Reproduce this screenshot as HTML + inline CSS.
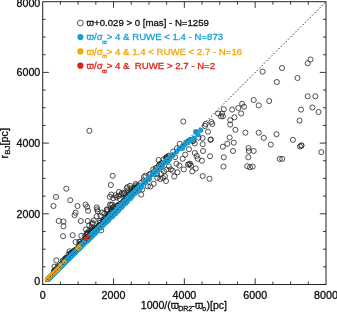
<!DOCTYPE html>
<html><head><meta charset="utf-8"><title>plot</title>
<style>html,body{margin:0;padding:0;background:#fff;}svg{display:block;}</style>
</head><body>
<svg width="337" height="312" viewBox="0 0 337 312">
<rect x="0" y="0" width="337" height="312" fill="#fff"/>
<g fill="none" stroke="#262626" stroke-width="0.8">
<circle cx="63.0" cy="236.2" r="2.55"/>
<circle cx="72.7" cy="235.2" r="2.55"/>
<circle cx="75.6" cy="242.0" r="2.55"/>
<circle cx="56.3" cy="260.4" r="2.55"/>
<circle cx="81.3" cy="235.8" r="2.55"/>
<circle cx="66.3" cy="188.7" r="2.55"/>
<circle cx="56.0" cy="196.9" r="2.55"/>
<circle cx="70.2" cy="200.2" r="2.55"/>
<circle cx="53.5" cy="206.0" r="2.55"/>
<circle cx="77.5" cy="206.0" r="2.55"/>
<circle cx="85.6" cy="204.6" r="2.55"/>
<circle cx="87.1" cy="206.9" r="2.55"/>
<circle cx="88.1" cy="210.8" r="2.55"/>
<circle cx="96.7" cy="207.5" r="2.55"/>
<circle cx="75.6" cy="212.7" r="2.55"/>
<circle cx="74.6" cy="215.2" r="2.55"/>
<circle cx="58.7" cy="221.0" r="2.55"/>
<circle cx="63.5" cy="221.5" r="2.55"/>
<circle cx="63.5" cy="226.3" r="2.55"/>
<circle cx="80.8" cy="221.0" r="2.55"/>
<circle cx="87.7" cy="221.0" r="2.55"/>
<circle cx="97.7" cy="211.3" r="2.55"/>
<circle cx="96.7" cy="216.2" r="2.55"/>
<circle cx="93.8" cy="220.4" r="2.55"/>
<circle cx="92.0" cy="223.8" r="2.55"/>
<circle cx="89.4" cy="130.8" r="2.55"/>
<circle cx="112.7" cy="175.8" r="2.55"/>
<circle cx="110.8" cy="185.0" r="2.55"/>
<circle cx="141.2" cy="194.6" r="2.55"/>
<circle cx="153.7" cy="183.8" r="2.55"/>
<circle cx="145.4" cy="175.8" r="2.55"/>
<circle cx="111.3" cy="194.6" r="2.55"/>
<circle cx="130.0" cy="185.8" r="2.55"/>
<circle cx="126.7" cy="188.3" r="2.55"/>
<circle cx="136.3" cy="185.4" r="2.55"/>
<circle cx="119.0" cy="192.0" r="2.55"/>
<circle cx="122.0" cy="193.0" r="2.55"/>
<circle cx="112.3" cy="204.6" r="2.55"/>
<circle cx="107.5" cy="211.3" r="2.55"/>
<circle cx="179.8" cy="143.8" r="2.55"/>
<circle cx="186.2" cy="142.5" r="2.55"/>
<circle cx="194.8" cy="143.5" r="2.55"/>
<circle cx="189.0" cy="149.2" r="2.55"/>
<circle cx="185.2" cy="154.6" r="2.55"/>
<circle cx="182.7" cy="158.8" r="2.55"/>
<circle cx="194.8" cy="153.0" r="2.55"/>
<circle cx="196.7" cy="156.0" r="2.55"/>
<circle cx="197.7" cy="158.8" r="2.55"/>
<circle cx="190.0" cy="163.7" r="2.55"/>
<circle cx="188.0" cy="164.6" r="2.55"/>
<circle cx="191.0" cy="165.6" r="2.55"/>
<circle cx="176.5" cy="163.7" r="2.55"/>
<circle cx="179.4" cy="165.6" r="2.55"/>
<circle cx="183.8" cy="169.4" r="2.55"/>
<circle cx="192.3" cy="171.3" r="2.55"/>
<circle cx="195.8" cy="168.5" r="2.55"/>
<circle cx="170.8" cy="169.4" r="2.55"/>
<circle cx="172.7" cy="170.8" r="2.55"/>
<circle cx="177.5" cy="172.3" r="2.55"/>
<circle cx="174.2" cy="176.5" r="2.55"/>
<circle cx="164.0" cy="171.3" r="2.55"/>
<circle cx="165.0" cy="176.2" r="2.55"/>
<circle cx="160.2" cy="179.0" r="2.55"/>
<circle cx="163.0" cy="178.0" r="2.55"/>
<circle cx="166.0" cy="181.0" r="2.55"/>
<circle cx="157.3" cy="178.0" r="2.55"/>
<circle cx="150.6" cy="173.8" r="2.55"/>
<circle cx="154.4" cy="171.3" r="2.55"/>
<circle cx="242.1" cy="103.8" r="2.55"/>
<circle cx="244.0" cy="106.7" r="2.55"/>
<circle cx="238.3" cy="108.0" r="2.55"/>
<circle cx="232.1" cy="109.6" r="2.55"/>
<circle cx="223.8" cy="109.2" r="2.55"/>
<circle cx="241.2" cy="113.5" r="2.55"/>
<circle cx="218.0" cy="113.5" r="2.55"/>
<circle cx="222.0" cy="113.5" r="2.55"/>
<circle cx="222.9" cy="116.3" r="2.55"/>
<circle cx="221.0" cy="116.3" r="2.55"/>
<circle cx="234.4" cy="117.3" r="2.55"/>
<circle cx="230.2" cy="120.2" r="2.55"/>
<circle cx="230.2" cy="124.6" r="2.55"/>
<circle cx="211.3" cy="122.0" r="2.55"/>
<circle cx="212.3" cy="124.0" r="2.55"/>
<circle cx="205.6" cy="124.0" r="2.55"/>
<circle cx="205.0" cy="126.0" r="2.55"/>
<circle cx="235.4" cy="129.8" r="2.55"/>
<circle cx="245.4" cy="132.7" r="2.55"/>
<circle cx="208.0" cy="131.7" r="2.55"/>
<circle cx="210.4" cy="139.8" r="2.55"/>
<circle cx="229.6" cy="137.5" r="2.55"/>
<circle cx="233.8" cy="142.7" r="2.55"/>
<circle cx="227.3" cy="143.8" r="2.55"/>
<circle cx="222.9" cy="146.7" r="2.55"/>
<circle cx="202.7" cy="144.2" r="2.55"/>
<circle cx="203.0" cy="151.0" r="2.55"/>
<circle cx="233.0" cy="151.0" r="2.55"/>
<circle cx="248.5" cy="148.0" r="2.55"/>
<circle cx="248.8" cy="151.0" r="2.55"/>
<circle cx="253.7" cy="151.0" r="2.55"/>
<circle cx="210.0" cy="156.3" r="2.55"/>
<circle cx="223.8" cy="157.3" r="2.55"/>
<circle cx="248.3" cy="157.3" r="2.55"/>
<circle cx="253.7" cy="100.0" r="2.55"/>
<circle cx="258.7" cy="105.4" r="2.55"/>
<circle cx="269.2" cy="101.0" r="2.55"/>
<circle cx="301.0" cy="109.6" r="2.55"/>
<circle cx="299.6" cy="120.6" r="2.55"/>
<circle cx="258.7" cy="132.7" r="2.55"/>
<circle cx="263.8" cy="137.9" r="2.55"/>
<circle cx="276.5" cy="134.2" r="2.55"/>
<circle cx="270.8" cy="144.6" r="2.55"/>
<circle cx="292.9" cy="139.8" r="2.55"/>
<circle cx="300.0" cy="146.5" r="2.55"/>
<circle cx="301.5" cy="145.5" r="2.55"/>
<circle cx="310.5" cy="59.5" r="2.55"/>
<circle cx="307.7" cy="63.3" r="2.55"/>
<circle cx="282.0" cy="68.0" r="2.55"/>
<circle cx="262.6" cy="71.6" r="2.55"/>
<circle cx="297.5" cy="78.0" r="2.55"/>
<circle cx="276.8" cy="82.0" r="2.55"/>
<circle cx="307.7" cy="96.3" r="2.55"/>
<circle cx="315.3" cy="96.3" r="2.55"/>
<circle cx="201.9" cy="160.8" r="2.55"/>
<circle cx="223.5" cy="166.6" r="2.55"/>
<circle cx="247.3" cy="166.2" r="2.55"/>
<circle cx="250.0" cy="167.2" r="2.55"/>
<circle cx="252.7" cy="166.6" r="2.55"/>
<circle cx="202.7" cy="176.0" r="2.55"/>
<circle cx="209.5" cy="178.7" r="2.55"/>
<circle cx="279.7" cy="158.9" r="2.55"/>
<circle cx="282.2" cy="158.9" r="2.55"/>
<circle cx="321.3" cy="152.1" r="2.55"/>
<circle cx="312.4" cy="107.5" r="2.55"/>
<circle cx="318.5" cy="112.0" r="2.55"/>
<circle cx="144.0" cy="177.0" r="2.55"/>
<circle cx="168.9" cy="166.4" r="2.55"/>
<circle cx="166.5" cy="169.6" r="2.55"/>
<circle cx="160.9" cy="173.7" r="2.55"/>
<circle cx="150.4" cy="186.5" r="2.55"/>
<circle cx="97.2" cy="209.4" r="2.55"/>
<circle cx="101.2" cy="230.3" r="2.55"/>
<circle cx="100.4" cy="215.8" r="2.55"/>
<circle cx="102.0" cy="212.6" r="2.55"/>
<circle cx="104.5" cy="213.4" r="2.55"/>
<circle cx="110.0" cy="204.6" r="2.55"/>
<circle cx="113.3" cy="198.2" r="2.55"/>
<circle cx="116.5" cy="197.4" r="2.55"/>
<circle cx="89.2" cy="225.4" r="2.55"/>
<circle cx="91.6" cy="227.0" r="2.55"/>
<circle cx="86.0" cy="229.5" r="2.55"/>
<circle cx="87.6" cy="232.7" r="2.55"/>
<circle cx="115.4" cy="195.3" r="2.55"/>
<circle cx="118.6" cy="196.0" r="2.55"/>
<circle cx="121.0" cy="194.5" r="2.55"/>
<circle cx="124.2" cy="192.9" r="2.55"/>
<circle cx="128.2" cy="190.4" r="2.55"/>
<circle cx="109.8" cy="196.9" r="2.55"/>
<circle cx="183.3" cy="121.5" r="2.55"/>
<circle cx="198.5" cy="137.6" r="2.55"/>
<circle cx="202.6" cy="138.1" r="2.55"/>
<circle cx="210.9" cy="139.5" r="2.55"/>
<circle cx="301.3" cy="145.6" r="2.55"/>
<circle cx="189.2" cy="164.3" r="2.55"/>
<circle cx="64.6" cy="262.0" r="2.55"/>
<circle cx="75.4" cy="251.4" r="2.55"/>
<circle cx="71.3" cy="254.9" r="2.55"/>
<circle cx="55.6" cy="270.2" r="2.55"/>
<circle cx="55.0" cy="271.0" r="2.55"/>
<circle cx="56.4" cy="270.3" r="2.55"/>
<circle cx="67.1" cy="258.0" r="2.55"/>
<circle cx="58.0" cy="268.4" r="2.55"/>
<circle cx="73.6" cy="251.2" r="2.55"/>
<circle cx="72.6" cy="253.5" r="2.55"/>
<circle cx="86.0" cy="240.9" r="2.55"/>
<circle cx="81.9" cy="244.4" r="2.55"/>
<circle cx="58.8" cy="267.9" r="2.55"/>
<circle cx="63.4" cy="261.7" r="2.55"/>
<circle cx="59.5" cy="266.2" r="2.55"/>
<circle cx="74.6" cy="251.5" r="2.55"/>
<circle cx="72.0" cy="254.8" r="2.55"/>
<circle cx="56.0" cy="270.5" r="2.55"/>
<circle cx="75.9" cy="250.1" r="2.55"/>
<circle cx="63.8" cy="261.8" r="2.55"/>
<circle cx="68.7" cy="257.6" r="2.55"/>
<circle cx="79.3" cy="246.1" r="2.55"/>
<circle cx="61.5" cy="264.1" r="2.55"/>
<circle cx="70.4" cy="254.6" r="2.55"/>
<circle cx="77.7" cy="248.6" r="2.55"/>
<circle cx="86.0" cy="240.7" r="2.55"/>
<circle cx="67.0" cy="258.2" r="2.55"/>
<circle cx="58.6" cy="267.2" r="2.55"/>
<circle cx="54.8" cy="270.7" r="2.55"/>
<circle cx="78.5" cy="247.2" r="2.55"/>
<circle cx="82.4" cy="243.9" r="2.55"/>
<circle cx="76.2" cy="249.4" r="2.55"/>
<circle cx="72.6" cy="253.3" r="2.55"/>
<circle cx="80.5" cy="244.3" r="2.55"/>
<circle cx="68.9" cy="256.5" r="2.55"/>
<circle cx="55.4" cy="269.9" r="2.55"/>
<circle cx="74.2" cy="250.5" r="2.55"/>
<circle cx="80.7" cy="245.6" r="2.55"/>
<circle cx="66.1" cy="259.4" r="2.55"/>
<circle cx="54.5" cy="271.4" r="2.55"/>
<circle cx="59.6" cy="267.1" r="2.55"/>
<circle cx="55.3" cy="269.9" r="2.55"/>
<circle cx="58.2" cy="268.2" r="2.55"/>
<circle cx="66.0" cy="259.0" r="2.55"/>
<circle cx="56.4" cy="269.6" r="2.55"/>
<circle cx="71.1" cy="253.8" r="2.55"/>
<circle cx="80.0" cy="245.1" r="2.55"/>
<circle cx="62.8" cy="263.2" r="2.55"/>
<circle cx="64.9" cy="260.0" r="2.55"/>
<circle cx="85.3" cy="241.4" r="2.55"/>
<circle cx="59.7" cy="266.7" r="2.55"/>
<circle cx="61.3" cy="264.6" r="2.55"/>
<circle cx="73.1" cy="253.2" r="2.55"/>
<circle cx="53.9" cy="272.1" r="2.55"/>
<circle cx="65.6" cy="260.0" r="2.55"/>
<circle cx="84.5" cy="240.9" r="2.55"/>
<circle cx="70.3" cy="255.2" r="2.55"/>
<circle cx="76.2" cy="250.6" r="2.55"/>
<circle cx="82.7" cy="242.6" r="2.55"/>
<circle cx="81.8" cy="243.3" r="2.55"/>
<circle cx="66.6" cy="259.5" r="2.55"/>
<circle cx="56.9" cy="268.6" r="2.55"/>
<circle cx="56.2" cy="270.6" r="2.55"/>
<circle cx="60.9" cy="265.7" r="2.55"/>
<circle cx="65.3" cy="261.6" r="2.55"/>
<circle cx="54.1" cy="272.5" r="2.55"/>
<circle cx="57.1" cy="269.0" r="2.55"/>
<circle cx="54.1" cy="270.9" r="2.55"/>
<circle cx="74.1" cy="252.6" r="2.55"/>
<circle cx="62.1" cy="264.1" r="2.55"/>
<circle cx="66.2" cy="257.8" r="2.55"/>
<circle cx="79.2" cy="241.7" r="2.55"/>
<circle cx="68.6" cy="254.1" r="2.55"/>
<circle cx="57.9" cy="266.2" r="2.55"/>
<circle cx="65.3" cy="258.2" r="2.55"/>
<circle cx="80.1" cy="243.8" r="2.55"/>
<circle cx="54.5" cy="266.6" r="2.55"/>
<circle cx="71.1" cy="252.8" r="2.55"/>
<circle cx="71.8" cy="252.6" r="2.55"/>
<circle cx="69.6" cy="251.3" r="2.55"/>
<circle cx="80.2" cy="241.8" r="2.55"/>
<circle cx="62.7" cy="260.5" r="2.55"/>
<circle cx="94.3" cy="229.9" r="2.55"/>
<circle cx="113.7" cy="210.5" r="2.55"/>
<circle cx="103.7" cy="222.1" r="2.55"/>
<circle cx="128.3" cy="195.5" r="2.55"/>
<circle cx="130.7" cy="193.5" r="2.55"/>
<circle cx="129.0" cy="195.4" r="2.55"/>
<circle cx="97.9" cy="227.1" r="2.55"/>
<circle cx="105.4" cy="221.0" r="2.55"/>
<circle cx="87.6" cy="238.0" r="2.55"/>
<circle cx="99.3" cy="225.2" r="2.55"/>
<circle cx="136.7" cy="188.5" r="2.55"/>
<circle cx="134.9" cy="188.8" r="2.55"/>
<circle cx="136.8" cy="188.7" r="2.55"/>
<circle cx="97.9" cy="227.9" r="2.55"/>
<circle cx="96.7" cy="229.2" r="2.55"/>
<circle cx="118.4" cy="205.5" r="2.55"/>
<circle cx="130.5" cy="194.6" r="2.55"/>
<circle cx="120.1" cy="204.1" r="2.55"/>
<circle cx="90.1" cy="234.5" r="2.55"/>
<circle cx="133.8" cy="190.5" r="2.55"/>
<circle cx="125.7" cy="199.4" r="2.55"/>
<circle cx="94.9" cy="229.3" r="2.55"/>
<circle cx="103.1" cy="221.1" r="2.55"/>
<circle cx="137.6" cy="187.8" r="2.55"/>
<circle cx="106.5" cy="217.3" r="2.55"/>
<circle cx="124.8" cy="201.2" r="2.55"/>
<circle cx="93.1" cy="232.9" r="2.55"/>
<circle cx="133.5" cy="190.8" r="2.55"/>
<circle cx="93.1" cy="231.0" r="2.55"/>
<circle cx="137.7" cy="187.0" r="2.55"/>
<circle cx="104.4" cy="220.5" r="2.55"/>
<circle cx="93.5" cy="232.9" r="2.55"/>
<circle cx="137.2" cy="187.5" r="2.55"/>
<circle cx="113.2" cy="210.6" r="2.55"/>
<circle cx="108.4" cy="215.7" r="2.55"/>
<circle cx="130.1" cy="195.8" r="2.55"/>
<circle cx="99.5" cy="226.1" r="2.55"/>
<circle cx="98.5" cy="226.3" r="2.55"/>
<circle cx="99.7" cy="225.5" r="2.55"/>
<circle cx="92.2" cy="231.7" r="2.55"/>
<circle cx="104.7" cy="220.5" r="2.55"/>
<circle cx="116.2" cy="207.7" r="2.55"/>
<circle cx="107.6" cy="216.3" r="2.55"/>
<circle cx="112.4" cy="212.5" r="2.55"/>
<circle cx="114.3" cy="212.1" r="2.55"/>
<circle cx="109.7" cy="216.3" r="2.55"/>
<circle cx="85.6" cy="238.5" r="2.55"/>
<circle cx="95.0" cy="230.1" r="2.55"/>
<circle cx="124.3" cy="200.6" r="2.55"/>
<circle cx="103.1" cy="221.9" r="2.55"/>
<circle cx="113.0" cy="207.4" r="2.55"/>
<circle cx="90.3" cy="232.3" r="2.55"/>
<circle cx="98.6" cy="225.6" r="2.55"/>
<circle cx="125.8" cy="197.2" r="2.55"/>
<circle cx="113.5" cy="207.2" r="2.55"/>
<circle cx="133.5" cy="190.0" r="2.55"/>
<circle cx="117.3" cy="205.7" r="2.55"/>
<circle cx="111.3" cy="210.3" r="2.55"/>
<circle cx="108.7" cy="214.1" r="2.55"/>
<circle cx="106.9" cy="209.5" r="2.55"/>
<circle cx="119.8" cy="198.9" r="2.55"/>
<circle cx="135.5" cy="188.8" r="2.55"/>
<circle cx="111.2" cy="205.1" r="2.55"/>
<circle cx="130.3" cy="194.5" r="2.55"/>
<circle cx="91.5" cy="231.9" r="2.55"/>
<circle cx="89.3" cy="235.0" r="2.55"/>
<circle cx="88.1" cy="233.7" r="2.55"/>
<circle cx="124.0" cy="194.1" r="2.55"/>
<circle cx="92.2" cy="229.1" r="2.55"/>
<circle cx="120.7" cy="204.0" r="2.55"/>
<circle cx="127.5" cy="187.1" r="2.55"/>
<circle cx="92.8" cy="222.9" r="2.55"/>
<circle cx="106.0" cy="217.1" r="2.55"/>
<circle cx="135.7" cy="184.0" r="2.55"/>
<circle cx="93.6" cy="229.8" r="2.55"/>
<circle cx="112.6" cy="211.3" r="2.55"/>
<circle cx="95.7" cy="228.3" r="2.55"/>
<circle cx="124.2" cy="200.9" r="2.55"/>
<circle cx="114.4" cy="209.0" r="2.55"/>
<circle cx="86.2" cy="237.7" r="2.55"/>
<circle cx="117.9" cy="205.1" r="2.55"/>
<circle cx="86.7" cy="233.3" r="2.55"/>
<circle cx="137.3" cy="187.6" r="2.55"/>
<circle cx="99.9" cy="225.1" r="2.55"/>
<circle cx="126.8" cy="197.5" r="2.55"/>
<circle cx="91.9" cy="231.5" r="2.55"/>
<circle cx="131.7" cy="188.3" r="2.55"/>
<circle cx="99.4" cy="225.3" r="2.55"/>
<circle cx="133.4" cy="189.2" r="2.55"/>
<circle cx="123.0" cy="202.0" r="2.55"/>
<circle cx="87.1" cy="234.4" r="2.55"/>
<circle cx="108.4" cy="216.6" r="2.55"/>
<circle cx="134.2" cy="187.9" r="2.55"/>
<circle cx="128.4" cy="196.6" r="2.55"/>
<circle cx="131.3" cy="193.7" r="2.55"/>
<circle cx="130.8" cy="192.6" r="2.55"/>
<circle cx="102.7" cy="220.0" r="2.55"/>
<circle cx="134.6" cy="189.6" r="2.55"/>
<circle cx="91.6" cy="231.2" r="2.55"/>
<circle cx="98.4" cy="226.4" r="2.55"/>
<circle cx="94.4" cy="230.6" r="2.55"/>
<circle cx="96.0" cy="228.0" r="2.55"/>
<circle cx="99.9" cy="220.9" r="2.55"/>
<circle cx="100.2" cy="222.8" r="2.55"/>
<circle cx="94.7" cy="229.2" r="2.55"/>
<circle cx="86.4" cy="237.8" r="2.55"/>
<circle cx="84.7" cy="236.4" r="2.55"/>
<circle cx="114.8" cy="209.7" r="2.55"/>
<circle cx="106.9" cy="209.8" r="2.55"/>
<circle cx="88.9" cy="231.0" r="2.55"/>
<circle cx="107.8" cy="215.3" r="2.55"/>
<circle cx="129.5" cy="194.2" r="2.55"/>
<circle cx="111.0" cy="210.6" r="2.55"/>
<circle cx="137.4" cy="186.5" r="2.55"/>
<circle cx="128.2" cy="193.2" r="2.55"/>
<circle cx="175.1" cy="157.1" r="2.55"/>
<circle cx="141.2" cy="182.8" r="2.55"/>
<circle cx="177.0" cy="148.2" r="2.55"/>
<circle cx="147.8" cy="186.3" r="2.55"/>
<circle cx="173.2" cy="151.6" r="2.55"/>
<circle cx="156.9" cy="174.0" r="2.55"/>
<circle cx="158.6" cy="160.0" r="2.55"/>
<circle cx="193.2" cy="140.6" r="2.55"/>
<circle cx="193.0" cy="141.1" r="2.55"/>
<circle cx="142.3" cy="189.4" r="2.55"/>
<circle cx="163.7" cy="159.3" r="2.55"/>
<circle cx="138.6" cy="185.3" r="2.55"/>
<circle cx="159.0" cy="165.2" r="2.55"/>
<circle cx="153.3" cy="169.3" r="2.55"/>
<circle cx="156.2" cy="167.9" r="2.55"/>
<circle cx="160.6" cy="163.6" r="2.55"/>
<circle cx="168.5" cy="156.6" r="2.55"/>
<circle cx="149.1" cy="174.4" r="2.55"/>
<circle cx="143.5" cy="180.6" r="2.55"/>
<circle cx="161.0" cy="164.9" r="2.55"/>
<circle cx="166.3" cy="157.4" r="2.55"/>
<circle cx="159.5" cy="164.6" r="2.55"/>
<circle cx="166.5" cy="159.1" r="2.55"/>
<circle cx="156.4" cy="168.3" r="2.55"/>
<circle cx="166.4" cy="157.5" r="2.55"/>
<circle cx="166.4" cy="158.1" r="2.55"/>
<circle cx="168.5" cy="155.7" r="2.55"/>
<circle cx="162.4" cy="163.0" r="2.55"/>
</g>
<g fill="#1b9ed6">
<circle cx="50.8" cy="276.4" r="2.55"/>
<circle cx="57.7" cy="269.5" r="2.55"/>
<circle cx="126.9" cy="201.4" r="2.55"/>
<circle cx="106.9" cy="220.8" r="2.55"/>
<circle cx="111.9" cy="215.5" r="2.55"/>
<circle cx="122.8" cy="204.5" r="2.55"/>
<circle cx="118.7" cy="209.6" r="2.55"/>
<circle cx="109.8" cy="217.5" r="2.55"/>
<circle cx="54.0" cy="273.2" r="2.55"/>
<circle cx="54.9" cy="272.4" r="2.55"/>
<circle cx="72.8" cy="254.5" r="2.55"/>
<circle cx="117.6" cy="210.2" r="2.55"/>
<circle cx="139.9" cy="188.2" r="2.55"/>
<circle cx="92.9" cy="234.4" r="2.55"/>
<circle cx="112.1" cy="215.2" r="2.55"/>
<circle cx="108.7" cy="219.5" r="2.55"/>
<circle cx="55.1" cy="272.1" r="2.55"/>
<circle cx="117.5" cy="209.4" r="2.55"/>
<circle cx="76.5" cy="250.8" r="2.55"/>
<circle cx="53.5" cy="273.7" r="2.55"/>
<circle cx="73.2" cy="254.2" r="2.55"/>
<circle cx="111.9" cy="216.4" r="2.55"/>
<circle cx="75.3" cy="252.2" r="2.55"/>
<circle cx="91.7" cy="235.6" r="2.55"/>
<circle cx="59.0" cy="268.2" r="2.55"/>
<circle cx="140.0" cy="187.7" r="2.55"/>
<circle cx="135.4" cy="191.1" r="2.55"/>
<circle cx="124.9" cy="202.4" r="2.55"/>
<circle cx="139.1" cy="188.8" r="2.55"/>
<circle cx="67.5" cy="259.7" r="2.55"/>
<circle cx="136.6" cy="190.5" r="2.55"/>
<circle cx="61.1" cy="266.0" r="2.55"/>
<circle cx="97.0" cy="230.1" r="2.55"/>
<circle cx="125.0" cy="202.5" r="2.55"/>
<circle cx="95.4" cy="231.3" r="2.55"/>
<circle cx="69.7" cy="257.7" r="2.55"/>
<circle cx="132.3" cy="195.2" r="2.55"/>
<circle cx="48.2" cy="279.0" r="2.55"/>
<circle cx="94.3" cy="233.4" r="2.55"/>
<circle cx="61.1" cy="266.2" r="2.55"/>
<circle cx="80.3" cy="247.2" r="2.55"/>
<circle cx="48.0" cy="279.2" r="2.55"/>
<circle cx="118.3" cy="208.8" r="2.55"/>
<circle cx="135.1" cy="192.6" r="2.55"/>
<circle cx="114.6" cy="212.2" r="2.55"/>
<circle cx="82.9" cy="244.5" r="2.55"/>
<circle cx="84.5" cy="242.3" r="2.55"/>
<circle cx="81.8" cy="245.5" r="2.55"/>
<circle cx="88.1" cy="239.2" r="2.55"/>
<circle cx="57.4" cy="269.8" r="2.55"/>
<circle cx="126.5" cy="201.2" r="2.55"/>
<circle cx="71.1" cy="255.8" r="2.55"/>
<circle cx="72.9" cy="254.5" r="2.55"/>
<circle cx="82.9" cy="244.3" r="2.55"/>
<circle cx="137.2" cy="189.1" r="2.55"/>
<circle cx="107.6" cy="220.6" r="2.55"/>
<circle cx="133.3" cy="193.2" r="2.55"/>
<circle cx="115.7" cy="212.0" r="2.55"/>
<circle cx="52.5" cy="274.7" r="2.55"/>
<circle cx="119.0" cy="209.1" r="2.55"/>
<circle cx="108.5" cy="218.9" r="2.55"/>
<circle cx="134.9" cy="192.3" r="2.55"/>
<circle cx="59.8" cy="267.4" r="2.55"/>
<circle cx="75.8" cy="251.4" r="2.55"/>
<circle cx="117.0" cy="209.7" r="2.55"/>
<circle cx="109.6" cy="217.8" r="2.55"/>
<circle cx="76.2" cy="251.3" r="2.55"/>
<circle cx="63.6" cy="263.7" r="2.55"/>
<circle cx="63.0" cy="264.2" r="2.55"/>
<circle cx="94.0" cy="232.2" r="2.55"/>
<circle cx="68.3" cy="258.5" r="2.55"/>
<circle cx="90.5" cy="237.6" r="2.55"/>
<circle cx="61.0" cy="266.3" r="2.55"/>
<circle cx="79.9" cy="247.2" r="2.55"/>
<circle cx="56.4" cy="270.8" r="2.55"/>
<circle cx="101.2" cy="225.7" r="2.55"/>
<circle cx="131.3" cy="196.1" r="2.55"/>
<circle cx="87.0" cy="240.7" r="2.55"/>
<circle cx="97.3" cy="230.4" r="2.55"/>
<circle cx="53.7" cy="273.5" r="2.55"/>
<circle cx="73.9" cy="253.3" r="2.55"/>
<circle cx="95.2" cy="232.2" r="2.55"/>
<circle cx="106.9" cy="220.1" r="2.55"/>
<circle cx="73.4" cy="254.0" r="2.55"/>
<circle cx="71.3" cy="256.1" r="2.55"/>
<circle cx="137.3" cy="189.6" r="2.55"/>
<circle cx="127.6" cy="199.7" r="2.55"/>
<circle cx="50.9" cy="276.4" r="2.55"/>
<circle cx="114.2" cy="212.4" r="2.55"/>
<circle cx="103.3" cy="224.5" r="2.55"/>
<circle cx="47.9" cy="279.4" r="2.55"/>
<circle cx="124.9" cy="201.3" r="2.55"/>
<circle cx="128.0" cy="198.8" r="2.55"/>
<circle cx="58.1" cy="269.1" r="2.55"/>
<circle cx="62.4" cy="264.9" r="2.55"/>
<circle cx="136.4" cy="191.1" r="2.55"/>
<circle cx="116.1" cy="212.0" r="2.55"/>
<circle cx="91.1" cy="236.8" r="2.55"/>
<circle cx="99.2" cy="227.1" r="2.55"/>
<circle cx="69.7" cy="257.5" r="2.55"/>
<circle cx="134.5" cy="193.2" r="2.55"/>
<circle cx="59.9" cy="267.4" r="2.55"/>
<circle cx="71.6" cy="255.8" r="2.55"/>
<circle cx="58.4" cy="268.9" r="2.55"/>
<circle cx="54.5" cy="272.8" r="2.55"/>
<circle cx="84.4" cy="243.0" r="2.55"/>
<circle cx="68.9" cy="258.4" r="2.55"/>
<circle cx="76.2" cy="251.1" r="2.55"/>
<circle cx="90.8" cy="235.8" r="2.55"/>
<circle cx="131.1" cy="196.6" r="2.55"/>
<circle cx="92.5" cy="234.7" r="2.55"/>
<circle cx="137.9" cy="188.9" r="2.55"/>
<circle cx="114.1" cy="213.3" r="2.55"/>
<circle cx="94.6" cy="232.6" r="2.55"/>
<circle cx="111.5" cy="216.3" r="2.55"/>
<circle cx="110.4" cy="216.6" r="2.55"/>
<circle cx="134.8" cy="192.5" r="2.55"/>
<circle cx="79.6" cy="247.6" r="2.55"/>
<circle cx="87.4" cy="240.0" r="2.55"/>
<circle cx="123.0" cy="204.8" r="2.55"/>
<circle cx="117.6" cy="210.3" r="2.55"/>
<circle cx="139.0" cy="188.4" r="2.55"/>
<circle cx="77.1" cy="250.1" r="2.55"/>
<circle cx="68.7" cy="258.6" r="2.55"/>
<circle cx="119.6" cy="208.3" r="2.55"/>
<circle cx="93.9" cy="232.3" r="2.55"/>
<circle cx="65.4" cy="261.8" r="2.55"/>
<circle cx="110.0" cy="216.6" r="2.55"/>
<circle cx="136.8" cy="190.1" r="2.55"/>
<circle cx="67.8" cy="259.3" r="2.55"/>
<circle cx="139.3" cy="187.9" r="2.55"/>
<circle cx="53.5" cy="273.7" r="2.55"/>
<circle cx="84.5" cy="242.2" r="2.55"/>
<circle cx="117.2" cy="211.1" r="2.55"/>
<circle cx="141.3" cy="185.4" r="2.55"/>
<circle cx="65.3" cy="262.0" r="2.55"/>
<circle cx="135.8" cy="191.5" r="2.55"/>
<circle cx="110.4" cy="217.1" r="2.55"/>
<circle cx="83.5" cy="243.9" r="2.55"/>
<circle cx="63.7" cy="263.5" r="2.55"/>
<circle cx="48.1" cy="279.1" r="2.55"/>
<circle cx="137.3" cy="189.4" r="2.55"/>
<circle cx="59.5" cy="267.7" r="2.55"/>
<circle cx="81.4" cy="245.9" r="2.55"/>
<circle cx="124.9" cy="202.1" r="2.55"/>
<circle cx="52.5" cy="274.8" r="2.55"/>
<circle cx="92.7" cy="235.3" r="2.55"/>
<circle cx="65.9" cy="261.2" r="2.55"/>
<circle cx="82.0" cy="245.2" r="2.55"/>
<circle cx="86.5" cy="240.8" r="2.55"/>
<circle cx="124.2" cy="203.2" r="2.55"/>
<circle cx="51.1" cy="276.1" r="2.55"/>
<circle cx="53.7" cy="273.5" r="2.55"/>
<circle cx="118.2" cy="209.4" r="2.55"/>
<circle cx="132.5" cy="195.2" r="2.55"/>
<circle cx="137.6" cy="189.2" r="2.55"/>
<circle cx="105.9" cy="221.5" r="2.55"/>
<circle cx="77.4" cy="249.5" r="2.55"/>
<circle cx="73.6" cy="253.3" r="2.55"/>
<circle cx="134.0" cy="193.3" r="2.55"/>
<circle cx="107.4" cy="219.8" r="2.55"/>
<circle cx="69.8" cy="257.4" r="2.55"/>
<circle cx="92.0" cy="234.2" r="2.55"/>
<circle cx="84.3" cy="243.2" r="2.55"/>
<circle cx="71.5" cy="255.9" r="2.55"/>
<circle cx="134.9" cy="192.1" r="2.55"/>
<circle cx="65.0" cy="262.2" r="2.55"/>
<circle cx="125.8" cy="202.7" r="2.55"/>
<circle cx="120.8" cy="207.1" r="2.55"/>
<circle cx="78.0" cy="249.5" r="2.55"/>
<circle cx="81.8" cy="245.4" r="2.55"/>
<circle cx="66.4" cy="260.9" r="2.55"/>
<circle cx="118.6" cy="208.7" r="2.55"/>
<circle cx="51.0" cy="276.2" r="2.55"/>
<circle cx="100.2" cy="227.9" r="2.55"/>
<circle cx="130.0" cy="195.5" r="2.55"/>
<circle cx="140.7" cy="186.7" r="2.55"/>
<circle cx="56.9" cy="270.3" r="2.55"/>
<circle cx="94.8" cy="232.7" r="2.55"/>
<circle cx="69.9" cy="257.5" r="2.55"/>
<circle cx="87.2" cy="240.5" r="2.55"/>
<circle cx="118.5" cy="209.6" r="2.55"/>
<circle cx="127.6" cy="200.0" r="2.55"/>
<circle cx="127.1" cy="200.6" r="2.55"/>
<circle cx="75.6" cy="251.9" r="2.55"/>
<circle cx="117.4" cy="210.3" r="2.55"/>
<circle cx="66.6" cy="260.7" r="2.55"/>
<circle cx="62.2" cy="265.0" r="2.55"/>
<circle cx="131.3" cy="196.7" r="2.55"/>
<circle cx="85.2" cy="242.3" r="2.55"/>
<circle cx="141.4" cy="186.5" r="2.55"/>
<circle cx="123.9" cy="203.5" r="2.55"/>
<circle cx="109.1" cy="217.9" r="2.55"/>
<circle cx="92.5" cy="234.8" r="2.55"/>
<circle cx="124.4" cy="202.1" r="2.55"/>
<circle cx="51.7" cy="275.6" r="2.55"/>
<circle cx="75.4" cy="251.8" r="2.55"/>
<circle cx="139.1" cy="187.9" r="2.55"/>
<circle cx="102.4" cy="224.4" r="2.55"/>
<circle cx="129.4" cy="198.2" r="2.55"/>
<circle cx="90.1" cy="237.2" r="2.55"/>
<circle cx="136.1" cy="190.0" r="2.55"/>
<circle cx="57.8" cy="269.5" r="2.55"/>
<circle cx="68.4" cy="259.0" r="2.55"/>
<circle cx="82.4" cy="244.7" r="2.55"/>
<circle cx="71.8" cy="255.4" r="2.55"/>
<circle cx="104.3" cy="223.2" r="2.55"/>
<circle cx="48.9" cy="278.3" r="2.55"/>
<circle cx="78.6" cy="248.7" r="2.55"/>
<circle cx="77.3" cy="250.1" r="2.55"/>
<circle cx="66.9" cy="260.3" r="2.55"/>
<circle cx="53.8" cy="273.5" r="2.55"/>
<circle cx="57.4" cy="269.9" r="2.55"/>
<circle cx="107.7" cy="219.1" r="2.55"/>
<circle cx="56.4" cy="270.8" r="2.55"/>
<circle cx="86.1" cy="240.7" r="2.55"/>
<circle cx="74.6" cy="252.9" r="2.55"/>
<circle cx="76.9" cy="249.7" r="2.55"/>
<circle cx="101.3" cy="226.4" r="2.55"/>
<circle cx="128.8" cy="198.0" r="2.55"/>
<circle cx="141.7" cy="186.0" r="2.55"/>
<circle cx="116.1" cy="210.9" r="2.55"/>
<circle cx="66.8" cy="260.1" r="2.55"/>
<circle cx="87.7" cy="239.6" r="2.55"/>
<circle cx="125.6" cy="203.0" r="2.55"/>
<circle cx="90.9" cy="235.9" r="2.55"/>
<circle cx="63.1" cy="264.1" r="2.55"/>
<circle cx="108.0" cy="219.2" r="2.55"/>
<circle cx="132.9" cy="193.5" r="2.55"/>
<circle cx="82.6" cy="244.4" r="2.55"/>
<circle cx="95.1" cy="231.9" r="2.55"/>
<circle cx="96.7" cy="230.3" r="2.55"/>
<circle cx="134.5" cy="192.2" r="2.55"/>
<circle cx="123.2" cy="203.6" r="2.55"/>
<circle cx="138.7" cy="188.6" r="2.55"/>
<circle cx="136.3" cy="190.7" r="2.55"/>
<circle cx="139.7" cy="187.9" r="2.55"/>
<circle cx="134.9" cy="192.4" r="2.55"/>
<circle cx="84.1" cy="242.8" r="2.55"/>
<circle cx="125.7" cy="202.3" r="2.55"/>
<circle cx="62.9" cy="264.3" r="2.55"/>
<circle cx="86.0" cy="241.5" r="2.55"/>
<circle cx="127.3" cy="199.8" r="2.55"/>
<circle cx="68.4" cy="258.9" r="2.55"/>
<circle cx="85.6" cy="242.0" r="2.55"/>
<circle cx="59.4" cy="267.8" r="2.55"/>
<circle cx="71.1" cy="256.2" r="2.55"/>
<circle cx="51.7" cy="275.6" r="2.55"/>
<circle cx="100.7" cy="226.6" r="2.55"/>
<circle cx="126.7" cy="200.8" r="2.55"/>
<circle cx="58.9" cy="268.3" r="2.55"/>
<circle cx="107.0" cy="220.8" r="2.55"/>
<circle cx="76.8" cy="250.8" r="2.55"/>
<circle cx="87.7" cy="239.3" r="2.55"/>
<circle cx="110.1" cy="217.9" r="2.55"/>
<circle cx="50.0" cy="277.2" r="2.55"/>
<circle cx="106.3" cy="221.5" r="2.55"/>
<circle cx="119.6" cy="207.7" r="2.55"/>
<circle cx="121.4" cy="206.4" r="2.55"/>
<circle cx="92.3" cy="234.9" r="2.55"/>
<circle cx="57.9" cy="269.3" r="2.55"/>
<circle cx="56.4" cy="270.8" r="2.55"/>
<circle cx="89.5" cy="238.0" r="2.55"/>
<circle cx="107.7" cy="219.6" r="2.55"/>
<circle cx="55.6" cy="271.7" r="2.55"/>
<circle cx="96.4" cy="231.8" r="2.55"/>
<circle cx="53.0" cy="274.3" r="2.55"/>
<circle cx="137.2" cy="190.1" r="2.55"/>
<circle cx="60.6" cy="266.5" r="2.55"/>
<circle cx="117.6" cy="211.6" r="2.55"/>
<circle cx="124.1" cy="202.5" r="2.55"/>
<circle cx="93.4" cy="232.6" r="2.55"/>
<circle cx="137.6" cy="189.4" r="2.55"/>
<circle cx="122.1" cy="205.5" r="2.55"/>
<circle cx="135.0" cy="191.7" r="2.55"/>
<circle cx="118.8" cy="208.3" r="2.55"/>
<circle cx="62.7" cy="264.4" r="2.55"/>
<circle cx="124.7" cy="203.0" r="2.55"/>
<circle cx="61.4" cy="266.0" r="2.55"/>
<circle cx="67.4" cy="259.8" r="2.55"/>
<circle cx="72.6" cy="254.8" r="2.55"/>
<circle cx="51.3" cy="275.9" r="2.55"/>
<circle cx="64.9" cy="262.2" r="2.55"/>
<circle cx="111.0" cy="214.9" r="2.55"/>
<circle cx="131.7" cy="195.0" r="2.55"/>
<circle cx="58.6" cy="268.5" r="2.55"/>
<circle cx="97.9" cy="229.7" r="2.55"/>
<circle cx="130.2" cy="197.7" r="2.55"/>
<circle cx="100.5" cy="227.8" r="2.55"/>
<circle cx="57.7" cy="269.6" r="2.55"/>
<circle cx="141.4" cy="186.4" r="2.55"/>
<circle cx="123.1" cy="204.8" r="2.55"/>
<circle cx="72.6" cy="254.4" r="2.55"/>
<circle cx="81.7" cy="245.6" r="2.55"/>
<circle cx="119.9" cy="207.8" r="2.55"/>
<circle cx="117.7" cy="209.5" r="2.55"/>
<circle cx="52.4" cy="274.8" r="2.55"/>
<circle cx="108.2" cy="219.6" r="2.55"/>
<circle cx="140.8" cy="187.5" r="2.55"/>
<circle cx="77.3" cy="250.1" r="2.55"/>
<circle cx="48.0" cy="279.2" r="2.55"/>
<circle cx="105.7" cy="221.5" r="2.55"/>
<circle cx="88.9" cy="239.2" r="2.55"/>
<circle cx="60.3" cy="267.0" r="2.55"/>
<circle cx="69.2" cy="258.1" r="2.55"/>
<circle cx="48.1" cy="279.1" r="2.55"/>
<circle cx="81.1" cy="245.9" r="2.55"/>
<circle cx="68.9" cy="258.3" r="2.55"/>
<circle cx="102.9" cy="224.8" r="2.55"/>
<circle cx="106.6" cy="220.9" r="2.55"/>
<circle cx="92.1" cy="234.4" r="2.55"/>
<circle cx="70.6" cy="256.4" r="2.55"/>
<circle cx="61.8" cy="265.3" r="2.55"/>
<circle cx="129.5" cy="197.3" r="2.55"/>
<circle cx="121.6" cy="206.2" r="2.55"/>
<circle cx="48.9" cy="278.3" r="2.55"/>
<circle cx="108.8" cy="219.1" r="2.55"/>
<circle cx="108.7" cy="218.9" r="2.55"/>
<circle cx="89.2" cy="237.4" r="2.55"/>
<circle cx="71.3" cy="256.1" r="2.55"/>
<circle cx="132.3" cy="194.1" r="2.55"/>
<circle cx="85.9" cy="241.2" r="2.55"/>
<circle cx="70.0" cy="256.9" r="2.55"/>
<circle cx="49.0" cy="278.2" r="2.55"/>
<circle cx="99.5" cy="227.5" r="2.55"/>
<circle cx="66.6" cy="260.7" r="2.55"/>
<circle cx="105.5" cy="222.8" r="2.55"/>
<circle cx="124.3" cy="203.1" r="2.55"/>
<circle cx="64.3" cy="263.0" r="2.55"/>
<circle cx="52.4" cy="274.8" r="2.55"/>
<circle cx="131.3" cy="195.8" r="2.55"/>
<circle cx="48.5" cy="278.8" r="2.55"/>
<circle cx="127.2" cy="200.1" r="2.55"/>
<circle cx="118.0" cy="210.2" r="2.55"/>
<circle cx="90.4" cy="236.9" r="2.55"/>
<circle cx="69.6" cy="257.5" r="2.55"/>
<circle cx="51.5" cy="275.7" r="2.55"/>
<circle cx="112.7" cy="213.6" r="2.55"/>
<circle cx="127.4" cy="200.1" r="2.55"/>
<circle cx="100.1" cy="227.6" r="2.55"/>
<circle cx="88.8" cy="238.4" r="2.55"/>
<circle cx="72.9" cy="254.6" r="2.55"/>
<circle cx="108.0" cy="218.9" r="2.55"/>
<circle cx="130.6" cy="196.8" r="2.55"/>
<circle cx="49.3" cy="277.9" r="2.55"/>
<circle cx="117.5" cy="209.3" r="2.55"/>
<circle cx="136.7" cy="190.7" r="2.55"/>
<circle cx="130.9" cy="197.1" r="2.55"/>
<circle cx="78.7" cy="248.5" r="2.55"/>
<circle cx="106.4" cy="219.5" r="2.55"/>
<circle cx="113.5" cy="214.9" r="2.55"/>
<circle cx="92.5" cy="235.9" r="2.55"/>
<circle cx="127.0" cy="200.8" r="2.55"/>
<circle cx="89.3" cy="238.7" r="2.55"/>
<circle cx="116.3" cy="211.7" r="2.55"/>
<circle cx="67.8" cy="259.5" r="2.55"/>
<circle cx="105.7" cy="220.3" r="2.55"/>
<circle cx="61.4" cy="265.8" r="2.55"/>
<circle cx="50.3" cy="276.8" r="2.55"/>
<circle cx="80.0" cy="246.8" r="2.55"/>
<circle cx="61.2" cy="266.1" r="2.55"/>
<circle cx="112.9" cy="214.3" r="2.55"/>
<circle cx="107.6" cy="220.1" r="2.55"/>
<circle cx="54.1" cy="273.2" r="2.55"/>
<circle cx="103.7" cy="224.3" r="2.55"/>
<circle cx="124.4" cy="201.9" r="2.55"/>
<circle cx="130.9" cy="195.0" r="2.55"/>
<circle cx="133.5" cy="193.2" r="2.55"/>
<circle cx="136.4" cy="190.5" r="2.55"/>
<circle cx="58.4" cy="268.9" r="2.55"/>
<circle cx="51.0" cy="276.1" r="2.55"/>
<circle cx="108.0" cy="220.4" r="2.55"/>
<circle cx="125.6" cy="202.1" r="2.55"/>
<circle cx="57.2" cy="270.0" r="2.55"/>
<circle cx="57.0" cy="270.2" r="2.55"/>
<circle cx="77.9" cy="249.5" r="2.55"/>
<circle cx="87.5" cy="239.4" r="2.55"/>
<circle cx="74.4" cy="252.8" r="2.55"/>
<circle cx="115.4" cy="212.4" r="2.55"/>
<circle cx="138.2" cy="188.7" r="2.55"/>
<circle cx="95.0" cy="231.9" r="2.55"/>
<circle cx="50.8" cy="276.5" r="2.55"/>
<circle cx="87.0" cy="240.9" r="2.55"/>
<circle cx="80.3" cy="246.7" r="2.55"/>
<circle cx="114.3" cy="213.5" r="2.55"/>
<circle cx="129.0" cy="198.5" r="2.55"/>
<circle cx="56.4" cy="270.8" r="2.55"/>
<circle cx="48.0" cy="279.3" r="2.55"/>
<circle cx="66.8" cy="260.4" r="2.55"/>
<circle cx="48.3" cy="279.0" r="2.55"/>
<circle cx="94.4" cy="233.7" r="2.55"/>
<circle cx="65.2" cy="262.1" r="2.55"/>
<circle cx="94.6" cy="233.2" r="2.55"/>
<circle cx="72.2" cy="254.8" r="2.55"/>
<circle cx="136.6" cy="190.8" r="2.55"/>
<circle cx="113.3" cy="213.5" r="2.55"/>
<circle cx="94.4" cy="232.3" r="2.55"/>
<circle cx="55.4" cy="271.8" r="2.55"/>
<circle cx="122.1" cy="205.6" r="2.55"/>
<circle cx="107.4" cy="221.0" r="2.55"/>
<circle cx="81.4" cy="246.1" r="2.55"/>
<circle cx="131.3" cy="195.6" r="2.55"/>
<circle cx="55.9" cy="271.3" r="2.55"/>
<circle cx="67.2" cy="260.0" r="2.55"/>
<circle cx="72.5" cy="254.6" r="2.55"/>
<circle cx="83.6" cy="243.9" r="2.55"/>
<circle cx="130.9" cy="196.4" r="2.55"/>
<circle cx="97.5" cy="229.2" r="2.55"/>
<circle cx="118.8" cy="208.6" r="2.55"/>
<circle cx="80.8" cy="246.9" r="2.55"/>
<circle cx="78.4" cy="248.6" r="2.55"/>
<circle cx="109.5" cy="216.7" r="2.55"/>
<circle cx="117.4" cy="209.5" r="2.55"/>
<circle cx="120.2" cy="206.4" r="2.55"/>
<circle cx="102.1" cy="224.8" r="2.55"/>
<circle cx="130.8" cy="196.0" r="2.55"/>
<circle cx="70.2" cy="257.0" r="2.55"/>
<circle cx="113.7" cy="213.1" r="2.55"/>
<circle cx="127.0" cy="200.1" r="2.55"/>
<circle cx="71.1" cy="256.1" r="2.55"/>
<circle cx="78.6" cy="248.8" r="2.55"/>
<circle cx="78.7" cy="248.6" r="2.55"/>
<circle cx="65.5" cy="261.5" r="2.55"/>
<circle cx="57.4" cy="269.8" r="2.55"/>
<circle cx="138.0" cy="188.8" r="2.55"/>
<circle cx="140.1" cy="186.8" r="2.55"/>
<circle cx="122.6" cy="204.8" r="2.55"/>
<circle cx="66.3" cy="261.0" r="2.55"/>
<circle cx="107.6" cy="219.3" r="2.55"/>
<circle cx="84.3" cy="242.9" r="2.55"/>
<circle cx="51.1" cy="276.2" r="2.55"/>
<circle cx="112.6" cy="213.9" r="2.55"/>
<circle cx="95.1" cy="232.6" r="2.55"/>
<circle cx="61.2" cy="266.1" r="2.55"/>
<circle cx="105.0" cy="223.1" r="2.55"/>
<circle cx="132.9" cy="193.8" r="2.55"/>
<circle cx="88.6" cy="239.3" r="2.55"/>
<circle cx="87.6" cy="240.0" r="2.55"/>
<circle cx="69.4" cy="258.0" r="2.55"/>
<circle cx="121.4" cy="207.5" r="2.55"/>
<circle cx="113.3" cy="213.3" r="2.55"/>
<circle cx="108.6" cy="219.6" r="2.55"/>
<circle cx="90.6" cy="236.9" r="2.55"/>
<circle cx="57.0" cy="270.2" r="2.55"/>
<circle cx="87.2" cy="239.9" r="2.55"/>
<circle cx="107.5" cy="220.8" r="2.55"/>
<circle cx="71.4" cy="256.0" r="2.55"/>
<circle cx="106.1" cy="220.9" r="2.55"/>
<circle cx="86.5" cy="241.2" r="2.55"/>
<circle cx="65.2" cy="262.3" r="2.55"/>
<circle cx="109.3" cy="217.9" r="2.55"/>
<circle cx="94.1" cy="233.6" r="2.55"/>
<circle cx="139.0" cy="187.4" r="2.55"/>
<circle cx="62.9" cy="264.3" r="2.55"/>
<circle cx="120.9" cy="205.6" r="2.55"/>
<circle cx="57.3" cy="269.9" r="2.55"/>
<circle cx="102.3" cy="225.9" r="2.55"/>
<circle cx="96.1" cy="231.4" r="2.55"/>
<circle cx="107.7" cy="219.2" r="2.55"/>
<circle cx="86.6" cy="241.1" r="2.55"/>
<circle cx="136.8" cy="190.3" r="2.55"/>
<circle cx="84.5" cy="242.3" r="2.55"/>
<circle cx="118.8" cy="207.0" r="2.55"/>
<circle cx="80.9" cy="245.7" r="2.55"/>
<circle cx="53.2" cy="274.1" r="2.55"/>
<circle cx="49.1" cy="278.1" r="2.55"/>
<circle cx="87.5" cy="240.4" r="2.55"/>
<circle cx="80.8" cy="246.2" r="2.55"/>
<circle cx="72.7" cy="254.5" r="2.55"/>
<circle cx="135.6" cy="190.5" r="2.55"/>
<circle cx="97.3" cy="229.8" r="2.55"/>
<circle cx="84.4" cy="242.3" r="2.55"/>
<circle cx="67.7" cy="259.4" r="2.55"/>
<circle cx="123.5" cy="202.9" r="2.55"/>
<circle cx="107.9" cy="220.3" r="2.55"/>
<circle cx="69.1" cy="258.1" r="2.55"/>
<circle cx="138.8" cy="189.2" r="2.55"/>
<circle cx="124.4" cy="202.1" r="2.55"/>
<circle cx="124.9" cy="203.1" r="2.55"/>
<circle cx="99.3" cy="227.9" r="2.55"/>
<circle cx="59.6" cy="267.6" r="2.55"/>
<circle cx="128.1" cy="199.8" r="2.55"/>
<circle cx="73.0" cy="254.3" r="2.55"/>
<circle cx="87.8" cy="239.3" r="2.55"/>
<circle cx="65.2" cy="261.8" r="2.55"/>
<circle cx="74.3" cy="253.0" r="2.55"/>
<circle cx="70.9" cy="256.4" r="2.55"/>
<circle cx="87.9" cy="238.9" r="2.55"/>
<circle cx="107.9" cy="219.7" r="2.55"/>
<circle cx="135.5" cy="192.5" r="2.55"/>
<circle cx="127.5" cy="198.5" r="2.55"/>
<circle cx="132.8" cy="194.1" r="2.55"/>
<circle cx="121.1" cy="205.3" r="2.55"/>
<circle cx="106.9" cy="219.5" r="2.55"/>
<circle cx="49.2" cy="277.9" r="2.55"/>
<circle cx="109.4" cy="217.7" r="2.55"/>
<circle cx="71.3" cy="255.9" r="2.55"/>
<circle cx="69.8" cy="257.4" r="2.55"/>
<circle cx="120.9" cy="206.6" r="2.55"/>
<circle cx="132.7" cy="194.3" r="2.55"/>
<circle cx="121.9" cy="204.7" r="2.55"/>
<circle cx="104.5" cy="221.7" r="2.55"/>
<circle cx="121.7" cy="206.4" r="2.55"/>
<circle cx="122.6" cy="206.1" r="2.55"/>
<circle cx="126.5" cy="200.5" r="2.55"/>
<circle cx="97.3" cy="229.2" r="2.55"/>
<circle cx="118.3" cy="210.5" r="2.55"/>
<circle cx="99.8" cy="227.1" r="2.55"/>
<circle cx="72.7" cy="254.5" r="2.55"/>
<circle cx="94.1" cy="233.0" r="2.55"/>
<circle cx="53.3" cy="273.9" r="2.55"/>
<circle cx="94.0" cy="233.2" r="2.55"/>
<circle cx="95.2" cy="233.1" r="2.55"/>
<circle cx="48.5" cy="278.8" r="2.55"/>
<circle cx="127.4" cy="200.9" r="2.55"/>
<circle cx="110.3" cy="216.8" r="2.55"/>
<circle cx="127.1" cy="200.8" r="2.55"/>
<circle cx="137.9" cy="188.9" r="2.55"/>
<circle cx="54.9" cy="272.3" r="2.55"/>
<circle cx="50.5" cy="276.7" r="2.55"/>
<circle cx="105.5" cy="222.5" r="2.55"/>
<circle cx="79.2" cy="248.7" r="2.55"/>
<circle cx="140.6" cy="187.7" r="2.55"/>
<circle cx="132.3" cy="195.2" r="2.55"/>
<circle cx="51.0" cy="276.2" r="2.55"/>
<circle cx="79.9" cy="247.8" r="2.55"/>
<circle cx="129.1" cy="198.8" r="2.55"/>
<circle cx="97.0" cy="229.8" r="2.55"/>
<circle cx="120.2" cy="207.0" r="2.55"/>
<circle cx="87.3" cy="239.5" r="2.55"/>
<circle cx="99.8" cy="227.3" r="2.55"/>
<circle cx="125.9" cy="202.0" r="2.55"/>
<circle cx="85.9" cy="241.6" r="2.55"/>
<circle cx="95.5" cy="231.8" r="2.55"/>
<circle cx="139.9" cy="188.2" r="2.55"/>
<circle cx="79.2" cy="248.5" r="2.55"/>
<circle cx="77.7" cy="249.7" r="2.55"/>
<circle cx="107.1" cy="219.4" r="2.55"/>
<circle cx="121.0" cy="205.2" r="2.55"/>
<circle cx="130.9" cy="196.1" r="2.55"/>
<circle cx="98.9" cy="228.0" r="2.55"/>
<circle cx="48.4" cy="278.8" r="2.55"/>
<circle cx="65.6" cy="261.5" r="2.55"/>
<circle cx="109.9" cy="217.8" r="2.55"/>
<circle cx="121.6" cy="204.9" r="2.55"/>
<circle cx="106.1" cy="221.7" r="2.55"/>
<circle cx="106.9" cy="220.7" r="2.55"/>
<circle cx="112.3" cy="215.9" r="2.55"/>
<circle cx="67.9" cy="259.5" r="2.55"/>
<circle cx="119.9" cy="208.2" r="2.55"/>
<circle cx="57.4" cy="269.9" r="2.55"/>
<circle cx="120.6" cy="206.6" r="2.55"/>
<circle cx="134.0" cy="193.8" r="2.55"/>
<circle cx="125.5" cy="202.5" r="2.55"/>
<circle cx="122.1" cy="205.8" r="2.55"/>
<circle cx="76.3" cy="251.1" r="2.55"/>
<circle cx="87.6" cy="239.9" r="2.55"/>
<circle cx="107.8" cy="218.8" r="2.55"/>
<circle cx="135.2" cy="191.3" r="2.55"/>
<circle cx="51.5" cy="275.7" r="2.55"/>
<circle cx="59.0" cy="268.2" r="2.55"/>
<circle cx="134.7" cy="193.6" r="2.55"/>
<circle cx="89.6" cy="237.3" r="2.55"/>
<circle cx="103.5" cy="223.8" r="2.55"/>
<circle cx="135.6" cy="190.9" r="2.55"/>
<circle cx="86.6" cy="240.7" r="2.55"/>
<circle cx="57.4" cy="269.8" r="2.55"/>
<circle cx="62.1" cy="265.1" r="2.55"/>
<circle cx="49.3" cy="277.9" r="2.55"/>
<circle cx="59.3" cy="268.0" r="2.55"/>
<circle cx="138.0" cy="188.0" r="2.55"/>
<circle cx="59.9" cy="267.2" r="2.55"/>
<circle cx="49.5" cy="277.7" r="2.55"/>
<circle cx="117.1" cy="210.8" r="2.55"/>
<circle cx="65.4" cy="261.7" r="2.55"/>
<circle cx="114.7" cy="212.2" r="2.55"/>
<circle cx="128.3" cy="199.1" r="2.55"/>
<circle cx="107.1" cy="220.5" r="2.55"/>
<circle cx="115.4" cy="213.7" r="2.55"/>
<circle cx="71.7" cy="255.5" r="2.55"/>
<circle cx="138.5" cy="188.9" r="2.55"/>
<circle cx="49.2" cy="278.0" r="2.55"/>
<circle cx="109.0" cy="218.2" r="2.55"/>
<circle cx="77.1" cy="250.2" r="2.55"/>
<circle cx="116.0" cy="210.5" r="2.55"/>
<circle cx="93.1" cy="233.3" r="2.55"/>
<circle cx="53.5" cy="273.8" r="2.55"/>
<circle cx="88.9" cy="238.0" r="2.55"/>
<circle cx="111.1" cy="215.5" r="2.55"/>
<circle cx="81.8" cy="245.0" r="2.55"/>
<circle cx="108.7" cy="219.1" r="2.55"/>
<circle cx="84.2" cy="243.3" r="2.55"/>
<circle cx="121.1" cy="205.0" r="2.55"/>
<circle cx="101.3" cy="226.3" r="2.55"/>
<circle cx="75.0" cy="251.6" r="2.55"/>
<circle cx="113.6" cy="213.0" r="2.55"/>
<circle cx="125.9" cy="202.0" r="2.55"/>
<circle cx="139.3" cy="187.2" r="2.55"/>
<circle cx="126.3" cy="201.6" r="2.55"/>
<circle cx="88.2" cy="239.3" r="2.55"/>
<circle cx="131.7" cy="196.4" r="2.55"/>
<circle cx="104.1" cy="222.6" r="2.55"/>
<circle cx="132.0" cy="195.2" r="2.55"/>
<circle cx="48.0" cy="279.2" r="2.55"/>
<circle cx="72.7" cy="254.8" r="2.55"/>
<circle cx="124.3" cy="202.6" r="2.55"/>
<circle cx="130.6" cy="195.4" r="2.55"/>
<circle cx="124.0" cy="203.0" r="2.55"/>
<circle cx="129.6" cy="198.3" r="2.55"/>
<circle cx="128.0" cy="199.6" r="2.55"/>
<circle cx="124.0" cy="204.0" r="2.55"/>
<circle cx="80.8" cy="247.1" r="2.55"/>
<circle cx="55.9" cy="271.4" r="2.55"/>
<circle cx="66.7" cy="260.6" r="2.55"/>
<circle cx="118.1" cy="208.7" r="2.55"/>
<circle cx="105.0" cy="222.5" r="2.55"/>
<circle cx="111.8" cy="216.0" r="2.55"/>
<circle cx="71.8" cy="255.5" r="2.55"/>
<circle cx="118.3" cy="208.8" r="2.55"/>
<circle cx="56.1" cy="271.2" r="2.55"/>
<circle cx="123.6" cy="203.6" r="2.55"/>
<circle cx="102.5" cy="225.2" r="2.55"/>
<circle cx="131.8" cy="194.9" r="2.55"/>
<circle cx="92.8" cy="234.8" r="2.55"/>
<circle cx="103.2" cy="224.0" r="2.55"/>
<circle cx="64.8" cy="262.4" r="2.55"/>
<circle cx="114.1" cy="213.9" r="2.55"/>
<circle cx="85.5" cy="241.4" r="2.55"/>
<circle cx="96.4" cy="230.8" r="2.55"/>
<circle cx="141.5" cy="185.7" r="2.55"/>
<circle cx="82.8" cy="244.1" r="2.55"/>
<circle cx="121.5" cy="205.2" r="2.55"/>
<circle cx="62.5" cy="264.7" r="2.55"/>
<circle cx="96.8" cy="230.8" r="2.55"/>
<circle cx="49.7" cy="277.4" r="2.55"/>
<circle cx="129.0" cy="197.8" r="2.55"/>
<circle cx="93.7" cy="233.9" r="2.55"/>
<circle cx="121.2" cy="206.4" r="2.55"/>
<circle cx="87.6" cy="239.1" r="2.55"/>
<circle cx="125.0" cy="202.7" r="2.55"/>
<circle cx="138.4" cy="189.0" r="2.55"/>
<circle cx="66.7" cy="260.5" r="2.55"/>
<circle cx="64.8" cy="262.4" r="2.55"/>
<circle cx="100.2" cy="227.0" r="2.55"/>
<circle cx="130.6" cy="198.5" r="2.55"/>
<circle cx="133.2" cy="193.7" r="2.55"/>
<circle cx="53.9" cy="273.4" r="2.55"/>
<circle cx="59.1" cy="268.1" r="2.55"/>
<circle cx="138.0" cy="189.4" r="2.55"/>
<circle cx="107.6" cy="218.8" r="2.55"/>
<circle cx="137.9" cy="189.8" r="2.55"/>
<circle cx="90.2" cy="237.5" r="2.55"/>
<circle cx="62.7" cy="264.3" r="2.55"/>
<circle cx="68.7" cy="258.6" r="2.55"/>
<circle cx="51.5" cy="275.7" r="2.55"/>
<circle cx="132.4" cy="194.3" r="2.55"/>
<circle cx="132.8" cy="194.4" r="2.55"/>
<circle cx="121.9" cy="205.7" r="2.55"/>
<circle cx="115.2" cy="213.4" r="2.55"/>
<circle cx="53.1" cy="274.2" r="2.55"/>
<circle cx="61.4" cy="265.8" r="2.55"/>
<circle cx="112.3" cy="216.7" r="2.55"/>
<circle cx="76.1" cy="251.5" r="2.55"/>
<circle cx="57.8" cy="269.5" r="2.55"/>
<circle cx="78.3" cy="249.0" r="2.55"/>
<circle cx="93.0" cy="234.1" r="2.55"/>
<circle cx="63.7" cy="263.6" r="2.55"/>
<circle cx="111.3" cy="215.6" r="2.55"/>
<circle cx="49.0" cy="278.2" r="2.55"/>
<circle cx="51.2" cy="276.0" r="2.55"/>
<circle cx="134.9" cy="192.1" r="2.55"/>
<circle cx="128.5" cy="197.2" r="2.55"/>
<circle cx="131.1" cy="195.7" r="2.55"/>
<circle cx="56.9" cy="270.3" r="2.55"/>
<circle cx="134.9" cy="191.9" r="2.55"/>
<circle cx="90.6" cy="237.2" r="2.55"/>
<circle cx="79.7" cy="247.4" r="2.55"/>
<circle cx="107.2" cy="220.8" r="2.55"/>
<circle cx="61.3" cy="266.0" r="2.55"/>
<circle cx="114.8" cy="212.3" r="2.55"/>
<circle cx="99.5" cy="227.1" r="2.55"/>
<circle cx="72.7" cy="254.2" r="2.55"/>
<circle cx="86.5" cy="240.6" r="2.55"/>
<circle cx="126.5" cy="200.3" r="2.55"/>
<circle cx="79.2" cy="247.9" r="2.55"/>
<circle cx="77.6" cy="249.4" r="2.55"/>
<circle cx="132.0" cy="193.8" r="2.55"/>
<circle cx="53.1" cy="274.0" r="2.55"/>
<circle cx="132.1" cy="195.5" r="2.55"/>
<circle cx="92.9" cy="234.7" r="2.55"/>
<circle cx="74.8" cy="252.5" r="2.55"/>
<circle cx="82.0" cy="245.1" r="2.55"/>
<circle cx="140.2" cy="185.5" r="2.55"/>
<circle cx="57.0" cy="270.2" r="2.55"/>
<circle cx="75.0" cy="252.2" r="2.55"/>
<circle cx="116.2" cy="211.3" r="2.55"/>
<circle cx="75.4" cy="251.8" r="2.55"/>
<circle cx="123.7" cy="203.6" r="2.55"/>
<circle cx="79.9" cy="247.4" r="2.55"/>
<circle cx="126.1" cy="201.2" r="2.55"/>
<circle cx="97.2" cy="229.8" r="2.55"/>
<circle cx="133.2" cy="193.4" r="2.55"/>
<circle cx="68.4" cy="258.9" r="2.55"/>
<circle cx="64.8" cy="262.5" r="2.55"/>
<circle cx="120.3" cy="207.1" r="2.55"/>
<circle cx="55.3" cy="271.9" r="2.55"/>
<circle cx="56.1" cy="271.2" r="2.55"/>
<circle cx="73.7" cy="253.7" r="2.55"/>
<circle cx="67.3" cy="260.1" r="2.55"/>
<circle cx="124.5" cy="203.6" r="2.55"/>
<circle cx="102.6" cy="224.6" r="2.55"/>
<circle cx="116.6" cy="210.5" r="2.55"/>
<circle cx="86.2" cy="241.1" r="2.55"/>
<circle cx="124.2" cy="203.4" r="2.55"/>
<circle cx="79.2" cy="247.8" r="2.55"/>
<circle cx="94.6" cy="233.5" r="2.55"/>
<circle cx="49.3" cy="277.9" r="2.55"/>
<circle cx="130.0" cy="197.8" r="2.55"/>
<circle cx="72.8" cy="254.3" r="2.55"/>
<circle cx="82.1" cy="244.6" r="2.55"/>
<circle cx="63.2" cy="264.1" r="2.55"/>
<circle cx="48.3" cy="278.9" r="2.55"/>
<circle cx="97.0" cy="230.9" r="2.55"/>
<circle cx="59.2" cy="268.0" r="2.55"/>
<circle cx="114.7" cy="212.0" r="2.55"/>
<circle cx="78.3" cy="249.5" r="2.55"/>
<circle cx="115.2" cy="213.1" r="2.55"/>
<circle cx="53.6" cy="273.6" r="2.55"/>
<circle cx="129.5" cy="197.0" r="2.55"/>
<circle cx="96.2" cy="231.3" r="2.55"/>
<circle cx="97.8" cy="229.6" r="2.55"/>
<circle cx="138.8" cy="188.6" r="2.55"/>
<circle cx="68.9" cy="258.4" r="2.55"/>
<circle cx="71.3" cy="255.8" r="2.55"/>
<circle cx="124.5" cy="202.5" r="2.55"/>
<circle cx="113.5" cy="213.7" r="2.55"/>
<circle cx="66.1" cy="261.0" r="2.55"/>
<circle cx="102.0" cy="225.2" r="2.55"/>
<circle cx="97.0" cy="230.3" r="2.55"/>
<circle cx="129.8" cy="197.9" r="2.55"/>
<circle cx="176.5" cy="151.7" r="2.55"/>
<circle cx="165.4" cy="161.9" r="2.55"/>
<circle cx="165.9" cy="161.7" r="2.55"/>
<circle cx="161.1" cy="166.0" r="2.55"/>
<circle cx="149.0" cy="179.6" r="2.55"/>
<circle cx="149.3" cy="178.9" r="2.55"/>
<circle cx="169.5" cy="158.4" r="2.55"/>
<circle cx="182.4" cy="147.2" r="2.55"/>
<circle cx="188.1" cy="142.2" r="2.55"/>
<circle cx="182.7" cy="146.1" r="2.55"/>
<circle cx="167.8" cy="161.2" r="2.55"/>
<circle cx="179.2" cy="148.7" r="2.55"/>
<circle cx="158.0" cy="169.3" r="2.55"/>
<circle cx="162.4" cy="164.4" r="2.55"/>
<circle cx="189.7" cy="139.7" r="2.55"/>
<circle cx="182.4" cy="148.2" r="2.55"/>
<circle cx="182.9" cy="145.6" r="2.55"/>
<circle cx="188.7" cy="140.8" r="2.55"/>
<circle cx="187.6" cy="142.1" r="2.55"/>
<circle cx="172.1" cy="155.3" r="2.55"/>
<circle cx="159.4" cy="168.3" r="2.55"/>
<circle cx="162.6" cy="164.9" r="2.55"/>
<circle cx="165.9" cy="161.3" r="2.55"/>
<circle cx="189.4" cy="140.4" r="2.55"/>
<circle cx="179.3" cy="148.7" r="2.55"/>
<circle cx="181.6" cy="147.9" r="2.55"/>
<circle cx="185.1" cy="144.2" r="2.55"/>
<circle cx="173.0" cy="155.4" r="2.55"/>
<circle cx="154.7" cy="173.0" r="2.55"/>
<circle cx="168.2" cy="160.0" r="2.55"/>
<circle cx="187.3" cy="142.7" r="2.55"/>
<circle cx="167.0" cy="161.0" r="2.55"/>
<circle cx="162.3" cy="164.5" r="2.55"/>
<circle cx="156.5" cy="171.0" r="2.55"/>
<circle cx="172.9" cy="154.7" r="2.55"/>
<circle cx="188.4" cy="140.7" r="2.55"/>
<circle cx="166.5" cy="161.1" r="2.55"/>
<circle cx="167.1" cy="159.8" r="2.55"/>
<circle cx="148.8" cy="178.3" r="2.55"/>
<circle cx="155.8" cy="171.4" r="2.55"/>
<circle cx="161.4" cy="166.2" r="2.55"/>
<circle cx="145.8" cy="181.1" r="2.55"/>
<circle cx="167.9" cy="159.4" r="2.55"/>
<circle cx="169.7" cy="158.9" r="2.55"/>
<circle cx="173.2" cy="154.7" r="2.55"/>
<circle cx="163.4" cy="163.0" r="2.55"/>
<circle cx="168.5" cy="159.8" r="2.55"/>
<circle cx="157.0" cy="171.0" r="2.55"/>
<circle cx="153.4" cy="173.9" r="2.55"/>
<circle cx="159.8" cy="166.8" r="2.55"/>
<circle cx="169.8" cy="157.5" r="2.55"/>
<circle cx="184.0" cy="145.3" r="2.55"/>
<circle cx="153.6" cy="174.5" r="2.55"/>
<circle cx="155.6" cy="172.1" r="2.55"/>
<circle cx="190.5" cy="139.8" r="2.55"/>
<circle cx="148.9" cy="177.4" r="2.55"/>
<circle cx="144.8" cy="182.1" r="2.55"/>
<circle cx="145.1" cy="182.8" r="2.55"/>
<circle cx="160.9" cy="167.5" r="2.55"/>
<circle cx="146.9" cy="180.1" r="2.55"/>
<circle cx="152.1" cy="174.2" r="2.55"/>
<circle cx="149.4" cy="178.3" r="2.55"/>
<circle cx="200.8" cy="130.3" r="2.55"/>
<circle cx="195.6" cy="131.5" r="2.55"/>
<circle cx="198.0" cy="134.7" r="2.55"/>
<circle cx="196.8" cy="133.0" r="2.55"/>
<circle cx="193.9" cy="138.1" r="2.55"/>
<circle cx="192.5" cy="139.2" r="2.55"/>
</g>
<g fill="#f7a600" stroke="#d9921a" stroke-width="0.4">
<circle cx="46.9" cy="279.4" r="2.1"/>
<circle cx="48.8" cy="277.4" r="2.1"/>
<circle cx="50.0" cy="276.1" r="2.1"/>
<circle cx="51.0" cy="275.4" r="2.1"/>
<circle cx="52.0" cy="274.4" r="2.1"/>
<circle cx="53.0" cy="273.6" r="2.1"/>
<circle cx="54.0" cy="272.8" r="2.1"/>
<circle cx="54.9" cy="271.9" r="2.1"/>
<circle cx="55.9" cy="271.1" r="2.1"/>
<circle cx="56.8" cy="270.1" r="2.1"/>
<circle cx="57.8" cy="269.4" r="2.1"/>
<circle cx="58.5" cy="268.6" r="2.1"/>
<circle cx="60.5" cy="265.2" r="2.1"/>
<circle cx="64.5" cy="261.6" r="2.1"/>
<circle cx="77.7" cy="248.6" r="2.1"/>
<circle cx="79.5" cy="246.7" r="2.1"/>
</g>
<g fill="#e32219">
<circle cx="86.0" cy="238.7" r="2.3"/>
<circle cx="88.3" cy="237.2" r="2.3"/>
</g>
<line x1="42.7" y1="284.5" x2="326.0" y2="1.7" stroke="#111" stroke-width="1" stroke-dasharray="1.3 2.1"/>
<rect x="42.7" y="1.7" width="283.3" height="282.8" fill="none" stroke="#222" stroke-width="1"/>
<g stroke="#222" stroke-width="0.9">
<line x1="60.41" y1="284.5" x2="60.41" y2="281.5"/>
<line x1="60.41" y1="1.7" x2="60.41" y2="4.7"/>
<line x1="42.7" y1="266.82" x2="45.7" y2="266.82"/>
<line x1="326.0" y1="266.82" x2="323.0" y2="266.82"/>
<line x1="78.11" y1="284.5" x2="78.11" y2="281.5"/>
<line x1="78.11" y1="1.7" x2="78.11" y2="4.7"/>
<line x1="42.7" y1="249.15" x2="45.7" y2="249.15"/>
<line x1="326.0" y1="249.15" x2="323.0" y2="249.15"/>
<line x1="95.82" y1="284.5" x2="95.82" y2="281.5"/>
<line x1="95.82" y1="1.7" x2="95.82" y2="4.7"/>
<line x1="42.7" y1="231.47" x2="45.7" y2="231.47"/>
<line x1="326.0" y1="231.47" x2="323.0" y2="231.47"/>
<line x1="113.53" y1="284.5" x2="113.53" y2="278.3"/>
<line x1="113.53" y1="1.7" x2="113.53" y2="7.9"/>
<line x1="42.7" y1="213.80" x2="48.900000000000006" y2="213.80"/>
<line x1="326.0" y1="213.80" x2="319.8" y2="213.80"/>
<line x1="131.23" y1="284.5" x2="131.23" y2="281.5"/>
<line x1="131.23" y1="1.7" x2="131.23" y2="4.7"/>
<line x1="42.7" y1="196.12" x2="45.7" y2="196.12"/>
<line x1="326.0" y1="196.12" x2="323.0" y2="196.12"/>
<line x1="148.94" y1="284.5" x2="148.94" y2="281.5"/>
<line x1="148.94" y1="1.7" x2="148.94" y2="4.7"/>
<line x1="42.7" y1="178.45" x2="45.7" y2="178.45"/>
<line x1="326.0" y1="178.45" x2="323.0" y2="178.45"/>
<line x1="166.64" y1="284.5" x2="166.64" y2="281.5"/>
<line x1="166.64" y1="1.7" x2="166.64" y2="4.7"/>
<line x1="42.7" y1="160.78" x2="45.7" y2="160.78"/>
<line x1="326.0" y1="160.78" x2="323.0" y2="160.78"/>
<line x1="184.35" y1="284.5" x2="184.35" y2="278.3"/>
<line x1="184.35" y1="1.7" x2="184.35" y2="7.9"/>
<line x1="42.7" y1="143.10" x2="48.900000000000006" y2="143.10"/>
<line x1="326.0" y1="143.10" x2="319.8" y2="143.10"/>
<line x1="202.06" y1="284.5" x2="202.06" y2="281.5"/>
<line x1="202.06" y1="1.7" x2="202.06" y2="4.7"/>
<line x1="42.7" y1="125.43" x2="45.7" y2="125.43"/>
<line x1="326.0" y1="125.43" x2="323.0" y2="125.43"/>
<line x1="219.76" y1="284.5" x2="219.76" y2="281.5"/>
<line x1="219.76" y1="1.7" x2="219.76" y2="4.7"/>
<line x1="42.7" y1="107.75" x2="45.7" y2="107.75"/>
<line x1="326.0" y1="107.75" x2="323.0" y2="107.75"/>
<line x1="237.47" y1="284.5" x2="237.47" y2="281.5"/>
<line x1="237.47" y1="1.7" x2="237.47" y2="4.7"/>
<line x1="42.7" y1="90.08" x2="45.7" y2="90.08"/>
<line x1="326.0" y1="90.08" x2="323.0" y2="90.08"/>
<line x1="255.18" y1="284.5" x2="255.18" y2="278.3"/>
<line x1="255.18" y1="1.7" x2="255.18" y2="7.9"/>
<line x1="42.7" y1="72.40" x2="48.900000000000006" y2="72.40"/>
<line x1="326.0" y1="72.40" x2="319.8" y2="72.40"/>
<line x1="272.88" y1="284.5" x2="272.88" y2="281.5"/>
<line x1="272.88" y1="1.7" x2="272.88" y2="4.7"/>
<line x1="42.7" y1="54.72" x2="45.7" y2="54.72"/>
<line x1="326.0" y1="54.72" x2="323.0" y2="54.72"/>
<line x1="290.59" y1="284.5" x2="290.59" y2="281.5"/>
<line x1="290.59" y1="1.7" x2="290.59" y2="4.7"/>
<line x1="42.7" y1="37.05" x2="45.7" y2="37.05"/>
<line x1="326.0" y1="37.05" x2="323.0" y2="37.05"/>
<line x1="308.29" y1="284.5" x2="308.29" y2="281.5"/>
<line x1="308.29" y1="1.7" x2="308.29" y2="4.7"/>
<line x1="42.7" y1="19.38" x2="45.7" y2="19.38"/>
<line x1="326.0" y1="19.38" x2="323.0" y2="19.38"/>
</g>
<g font-family="'Liberation Sans', sans-serif" font-size="10.7" fill="#111" stroke="#111" stroke-width="0.32">
<text x="42.7" y="298.6" text-anchor="middle">0</text>
<text x="40.3" y="284.7" text-anchor="end">0</text>
<text x="113.5" y="298.6" text-anchor="middle">2000</text>
<text x="40.3" y="217.7" text-anchor="end">2000</text>
<text x="184.4" y="298.6" text-anchor="middle">4000</text>
<text x="40.3" y="147.0" text-anchor="end">4000</text>
<text x="255.2" y="298.6" text-anchor="middle">6000</text>
<text x="40.3" y="76.3" text-anchor="end">6000</text>
<text x="326.0" y="298.6" text-anchor="middle">8000</text>
<text x="40.3" y="6.9" text-anchor="end">8000</text>
</g>
<g font-family="'Liberation Sans', sans-serif" font-size="10.5" fill="#111" stroke="#111" stroke-width="0.3">
<text x="140.8" y="308.8" font-size="10.6">1000/(ϖ<tspan font-size="7" dy="2.2" dx="-0.9">DR2</tspan><tspan dy="-2.2" dx="-0.7">-</tspan><tspan dx="-0.1">ϖ</tspan><tspan font-size="7" dy="2.2" dx="-0.9">o</tspan><tspan dy="-2.2" dx="0.2">)[pc]</tspan></text>
<text transform="translate(8.2,158.4) rotate(-90)" font-size="10.8">r<tspan font-size="8" dy="2.2">BJ</tspan><tspan dy="-2.2">[pc]</tspan></text>
</g>
<g font-family="'Liberation Sans', sans-serif" font-size="9.65" style="white-space:pre">
<circle cx="80.4" cy="23.0" r="2.9" fill="#fff" stroke="#222" stroke-width="0.75"/>
<text id="lg0" x="86.6" y="26.3" fill="#111" stroke="#111" stroke-width="0.3">ϖ+0.029 &gt; 0 [mas] - N=1259</text>
<circle cx="80.4" cy="37.0" r="3.1" fill="#1b9ed6"/>
<text id="lg1" x="86.6" y="40.3" fill="#1b9ed6" stroke="#1b9ed6" stroke-width="0.3">ϖ/σ<tspan font-size="5.8" dy="3.5" dx="-0.5">ϖ</tspan><tspan dy="-3.5">&gt; 4 &amp; RUWE &lt; 1.4 - N=873</tspan></text>
<circle cx="80.4" cy="51.4" r="3.1" fill="#f7a600"/>
<text id="lg2" x="86.6" y="54.7" fill="#f7a600" stroke="#f7a600" stroke-width="0.3">ϖ/σ<tspan font-size="5.8" dy="3.5" dx="-0.5">ϖ</tspan><tspan dy="-3.5">&gt; 4 &amp; 1.4 &lt; RUWE &lt; 2.7 - N=16</tspan></text>
<circle cx="80.4" cy="65.7" r="3.1" fill="#d9241c"/>
<text id="lg3" x="86.6" y="69.0" fill="#d9241c" stroke="#d9241c" stroke-width="0.3">ϖ/σ<tspan font-size="5.8" dy="3.5" dx="-0.5">ϖ</tspan><tspan dy="-3.5">&gt; 4 &amp;&#160; RUWE &gt; 2.7 - N=2</tspan></text>
</g>
</svg>
</body></html>
